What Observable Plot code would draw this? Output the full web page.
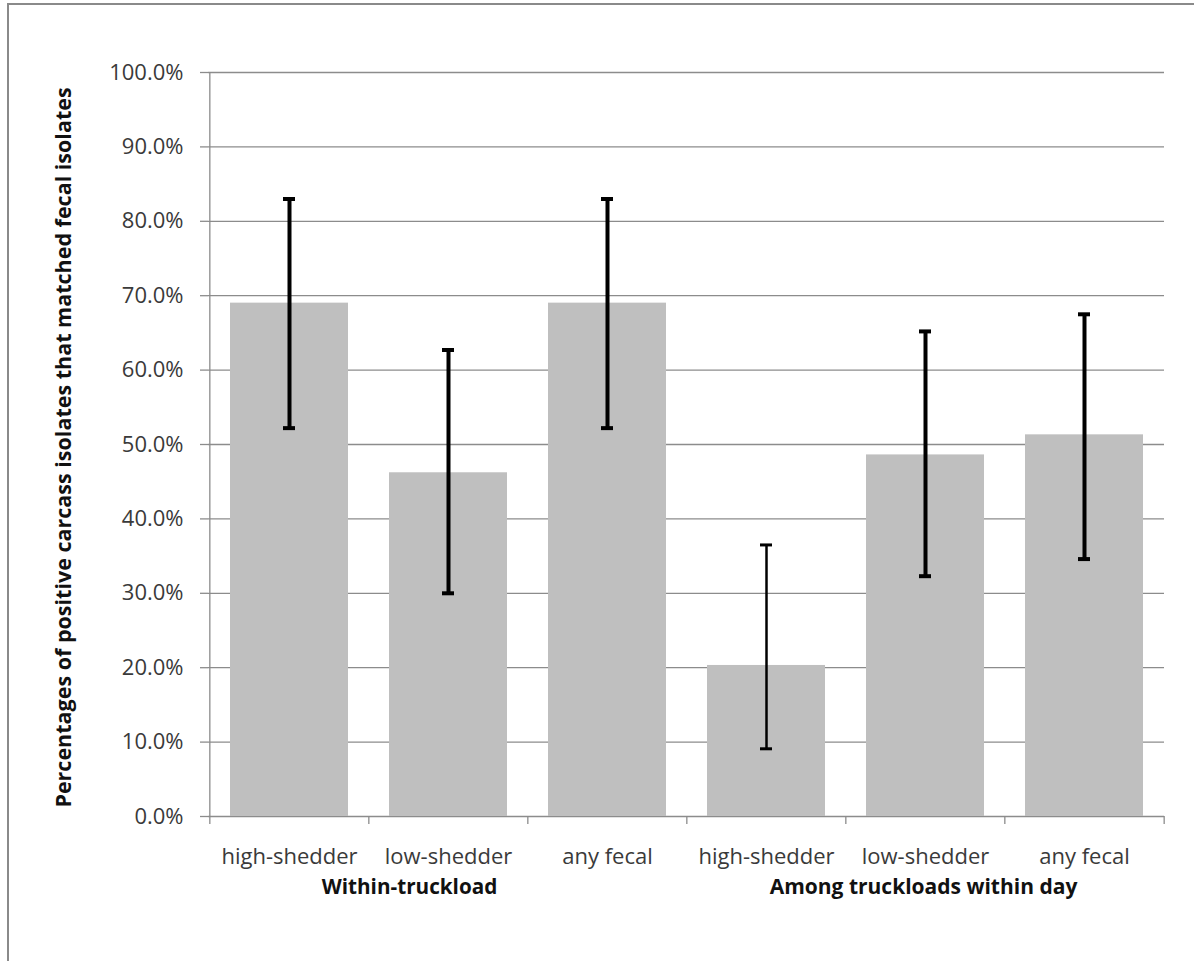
<!DOCTYPE html>
<html><head><meta charset="utf-8">
<script src="https://cdn.jsdelivr.net/npm/d3@7"></script>
<script src="https://cdn.jsdelivr.net/npm/@observablehq/plot@0.6"></script>
<style>
body{margin:0;background:#fff;}
#wrap{position:relative;width:1194px;height:961px;overflow:hidden;background:#fff;}
#frame{position:absolute;left:7px;top:3px;width:1300px;height:1100px;border-left:2px solid #8a8a8a;border-top:2px solid #8a8a8a;}
#chart{position:absolute;left:0;top:0;}
</style></head><body>
<div id="wrap"><div id="frame"></div><div id="chart"></div></div>
<script>
const groups = ["Within-truckload","Within-truckload","Within-truckload","Among truckloads within day","Among truckloads within day","Among truckloads within day"];
const categories = ["high-shedder","low-shedder","any fecal","high-shedder","low-shedder","any fecal"];
const values = [0.690, 0.462, 0.690, 0.203, 0.486, 0.513];
const lower  = [0.522, 0.300, 0.522, 0.091, 0.323, 0.346];
const upper  = [0.830, 0.627, 0.830, 0.365, 0.652, 0.675];
const yTicks = [0, 0.1, 0.2, 0.3, 0.4, 0.5, 0.6, 0.7, 0.8, 0.9, 1.0];
const groupLabels = ["Within-truckload", "Among truckloads within day"];
const yTitle = "Percentages of positive carcass isolates that matched fecal isolates";

const data = categories.map((c, i) => ({
  key: groups[i] + "|" + c, category: c, group: groups[i],
  value: values[i], lo: lower[i], hi: upper[i], thin: i === 3
}));
const keys = data.map(d => d.key);

const W = 1194, H = 961, mL = 208, mR = 30, mT = 72, mB = 145;
const step = (W - mL - mR) / keys.length;
const grid = "#8c8c8c";
const font = "'Open Sans', sans-serif";

const chart = Plot.plot({
  width: W, height: H,
  marginLeft: mL, marginRight: mR, marginTop: mT, marginBottom: mB,
  style: {fontFamily: font, background: "transparent", overflow: "visible"},
  x: {domain: keys, paddingInner: 0.26, paddingOuter: 0.13, axis: null},
  y: {domain: [0, 1], label: null},
  marks: [
    Plot.gridY(yTicks, {stroke: grid, strokeOpacity: 1, strokeWidth: 1.3}),
    Plot.ruleX([keys[0]], {dx: -step / 2, y1: 0, y2: 1, stroke: grid, strokeWidth: 1.3}),
    Plot.ruleX(keys, {dx: -step / 2, y1: 0, y2: 0, insetBottom: -8, stroke: grid, strokeWidth: 1.3}),
    Plot.ruleX([keys[keys.length - 1]], {dx: step / 2, y1: 0, y2: 0, insetBottom: -8, stroke: grid, strokeWidth: 1.3}),
    Plot.axisY(yTicks, {tickSize: 8, tickPadding: 17, tickFormat: d3.format(".1%"), fontSize: 22, fill: "#3a3a3a", stroke: grid, strokeWidth: 1.3, label: null}),
    Plot.barY(data, {x: "key", y: "value", fill: "#bfbfbf"}),
    Plot.ruleX(data, {x: "key", y1: "lo", y2: "hi", stroke: "black", strokeWidth: d => d.thin ? 2.5 : 4}),
    Plot.tickY(data, {x: "key", y: "lo", stroke: "black", strokeWidth: d => d.thin ? 3 : 4, insetLeft: 53, insetRight: 53}),
    Plot.tickY(data, {x: "key", y: "hi", stroke: "black", strokeWidth: d => d.thin ? 3 : 4, insetLeft: 53, insetRight: 53}),
    Plot.text(data, {x: "key", text: "category", frameAnchor: "bottom", dy: 40, lineAnchor: "middle", fontSize: 22, fill: "#3a3a3a"}),
    Plot.text([groupLabels[0]], {x: () => keys[1], text: d => d, frameAnchor: "bottom", dx: -39, dy: 71, lineAnchor: "middle", fontSize: 20.7, fontWeight: "bold", fill: "#111"}),
    Plot.text([groupLabels[1]], {x: () => keys[4], text: d => d, frameAnchor: "bottom", dx: -2, dy: 71, lineAnchor: "middle", fontSize: 21, fontWeight: "bold", fill: "#111"}),
    Plot.text([yTitle], {frameAnchor: "left", dx: -144, dy: 3, rotate: -90, textAnchor: "middle", lineAnchor: "middle", fontSize: 21.5, fontWeight: "bold", fill: "#111"})
  ]
});
document.getElementById("chart").appendChild(chart);
</script>
</body></html>
